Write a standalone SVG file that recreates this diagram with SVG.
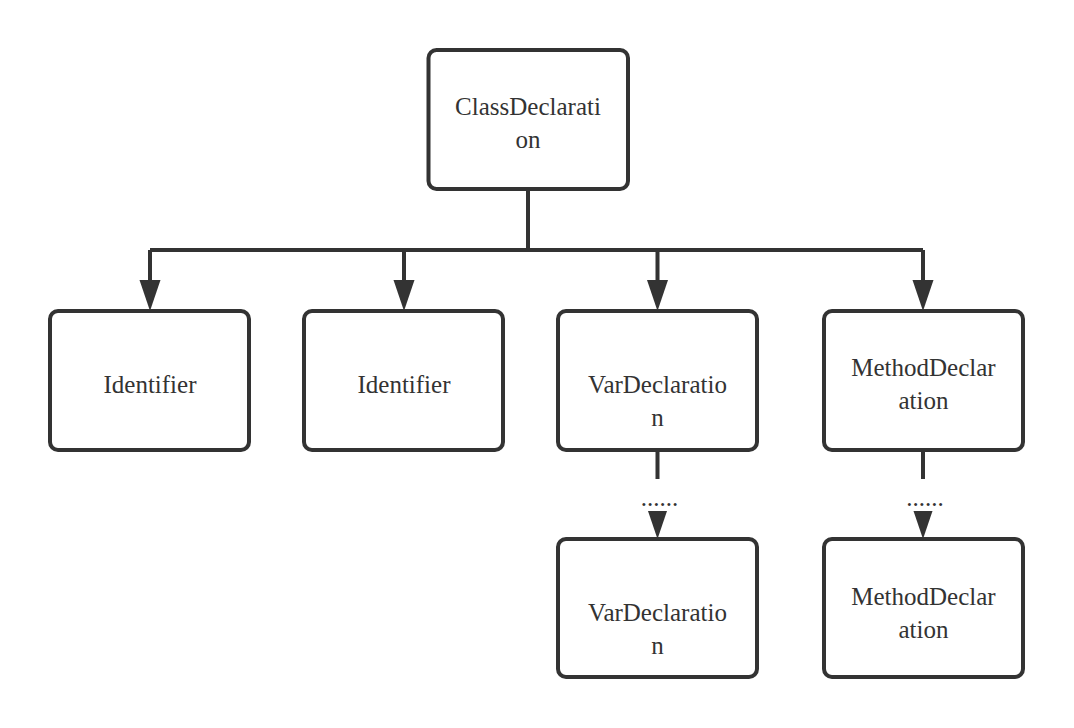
<svg xmlns="http://www.w3.org/2000/svg" width="1074" height="728" viewBox="0 0 1074 728">
<defs>
<style>
.box{fill:#ffffff;stroke:#333333;stroke-width:4}
.lbl{font-family:"Liberation Serif",Tinos,"Times New Roman",serif;font-size:25px;fill:#333333;text-anchor:middle}
.edge{fill:none;stroke:#333333;stroke-width:4}
.head{fill:#333333}
</style>
</defs>
<rect width="1074" height="728" fill="#ffffff"/>
<g id="connectors">
<path class="edge" d="M528,189 V250 M150,250 H923 M150,250 V282 M404,250 V282 M657.5,250 V282 M923,250 V282"/>
<path class="edge" d="M657.5,450 V479 M923,450 V479"/>
<polygon class="head" points="139.5,280 160.5,280 150,311"/>
<polygon class="head" points="393.5,280 414.5,280 404,311"/>
<polygon class="head" points="647,280 668,280 657.5,311"/>
<polygon class="head" points="912.5,280 933.5,280 923,311"/>
<polygon class="head" points="648,511 667,511 657.5,539"/>
<polygon class="head" points="913.5,511 932.5,511 923,539"/>
<text class="lbl" x="659.5" y="506">......</text>
<text class="lbl" x="925" y="506">......</text>
</g>
<g id="classDeclaration">
<rect class="box" x="428.5" y="50" width="199.5" height="139" rx="8"/>
<text class="lbl" x="528" y="115">ClassDeclarati</text>
<text class="lbl" x="528" y="148">on</text>
</g>
<g id="identifier1">
<rect class="box" x="50" y="311" width="199" height="139" rx="8"/>
<text class="lbl" x="150" y="392.5">Identifier</text>
</g>
<g id="identifier2">
<rect class="box" x="304" y="311" width="199" height="139" rx="8"/>
<text class="lbl" x="404" y="392.5">Identifier</text>
</g>
<g id="varDeclaration1">
<rect class="box" x="558" y="311" width="199" height="139" rx="8"/>
<text class="lbl" x="657.5" y="392.5">VarDeclaratio</text>
<text class="lbl" x="657.5" y="425.5">n</text>
</g>
<g id="methodDeclaration1">
<rect class="box" x="824" y="311" width="199" height="139" rx="8"/>
<text class="lbl" x="923.5" y="376">MethodDeclar</text>
<text class="lbl" x="923.5" y="409">ation</text>
</g>
<g id="varDeclaration2">
<rect class="box" x="558" y="539" width="199" height="138" rx="8"/>
<text class="lbl" x="657.5" y="621">VarDeclaratio</text>
<text class="lbl" x="657.5" y="654">n</text>
</g>
<g id="methodDeclaration2">
<rect class="box" x="824" y="539" width="199" height="138" rx="8"/>
<text class="lbl" x="923.5" y="605">MethodDeclar</text>
<text class="lbl" x="923.5" y="637.5">ation</text>
</g>
</svg>
